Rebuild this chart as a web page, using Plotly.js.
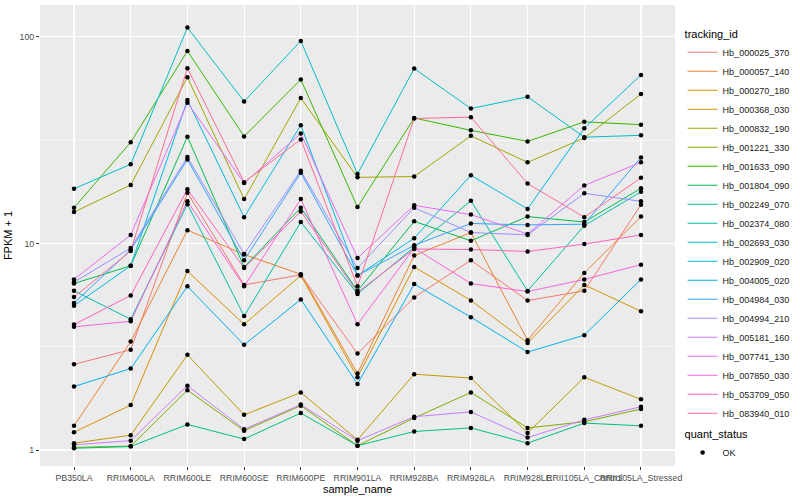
<!DOCTYPE html>
<html>
<head>
<meta charset="utf-8">
<script src="https://cdn.plot.ly/plotly-3.0.1.min.js"></script>
<style>html,body{margin:0;padding:0;background:#fff;}#chart{width:800px;height:500px;}</style>
</head>
<body>
<div id="chart"></div>
<script>
// Categories (x axis)
const sampleNames = ["PB350LA","RRIM600LA","RRIM600LE","RRIM600SE","RRIM600PE","RRIM901LA","RRIM928BA","RRIM928LA","RRIM928LE","RRII105LA_Control","RRII105LA_Stressed"];

// Series: FPKM + 1 per sample
const Hb_000025_370 = [2.6, 3.06, 17.6, 6.3, 7.05, 2.93, 5.48, 8.3, 5.29, 5.9, 15.4];
const Hb_000057_140 = [1.31, 3.35, 11.6, 8.85, 7.1, 2.35, 8.75, 11.3, 3.4, 7.2, 13.5];
const Hb_000270_180 = [1.22, 1.65, 7.35, 4.06, 7.0, 2.25, 7.7, 5.3, 3.3, 6.3, 4.7];
const Hb_000368_030 = [1.08, 1.18, 2.89, 1.48, 1.9, 1.12, 2.33, 2.23, 1.21, 2.25, 1.76];
const Hb_000832_190 = [14.2, 19.2, 63.8, 16.4, 50.6, 20.9, 21.1, 33.2, 24.7, 32.4, 52.9];
const Hb_001221_330 = [1.03, 1.045, 1.95, 1.24, 1.64, 1.05, 1.43, 1.9, 1.28, 1.37, 1.58];
const Hb_001633_090 = [14.9, 30.9, 85.5, 33, 62.2, 15, 40.5, 35.3, 31.2, 38.8, 37.6];
const Hb_001804_090 = [6.4, 7.8, 32.9, 7.7, 14.9, 5.9, 12.8, 10.3, 13.5, 12.7, 18.5];
const Hb_002249_070 = [1.02, 1.04, 1.33, 1.13, 1.51, 1.05, 1.23, 1.28, 1.08, 1.35, 1.31];
const Hb_002374_080 = [5.9, 4.3, 15.5, 4.45, 12.7, 5.7, 9.6, 16.1, 5.89, 12.2, 17.8];
const Hb_002693_030 = [18.4, 24.2, 111, 48.7, 95.7, 21.7, 70.3, 45, 51.3, 32.7, 33.4];
const Hb_002909_020 = [5.0, 7.8, 49.5, 13.4, 37.4, 7.0, 10.6, 21.4, 14.7, 36.1, 65.5];
const Hb_004005_020 = [2.03, 2.48, 6.2, 3.23, 5.36, 2.09, 6.36, 4.4, 2.98, 3.6, 6.7];
const Hb_004984_030 = [5.15, 9.3, 25.5, 8.3, 22.0, 7.0, 9.8, 12.5, 12.3, 12.4, 26.1];
const Hb_004994_210 = [6.5, 9.5, 26.2, 8.9, 22.5, 7.6, 14.9, 11.3, 11.0, 17.5, 16.0];
const Hb_005181_160 = [1.06, 1.11, 2.05, 1.26, 1.66, 1.11, 1.45, 1.53, 1.15, 1.4, 1.62];
const Hb_007741_130 = [6.7, 11.0, 48, 19.6, 34.1, 8.5, 15.3, 13.8, 11.1, 19.1, 24.7];
const Hb_007850_030 = [3.95, 4.2, 16.0, 6.2, 16.4, 4.06, 9.5, 6.4, 5.85, 6.7, 7.9];
const Hb_053709_050 = [4.05, 5.6, 18.3, 7.6, 14.3, 5.8, 9.4, 9.35, 9.15, 9.93, 11.0];
const Hb_083940_010 = [5.5, 9.2, 70.6, 19.8, 31.9, 6.2, 40.3, 40.9, 19.5, 13.4, 20.8];

const trackingIds = ["Hb_000025_370","Hb_000057_140","Hb_000270_180","Hb_000368_030","Hb_000832_190","Hb_001221_330","Hb_001633_090","Hb_001804_090","Hb_002249_070","Hb_002374_080","Hb_002693_030","Hb_002909_020","Hb_004005_020","Hb_004984_030","Hb_004994_210","Hb_005181_160","Hb_007741_130","Hb_007850_030","Hb_053709_050","Hb_083940_010"];
const seriesValues = [Hb_000025_370,Hb_000057_140,Hb_000270_180,Hb_000368_030,Hb_000832_190,Hb_001221_330,Hb_001633_090,Hb_001804_090,Hb_002249_070,Hb_002374_080,Hb_002693_030,Hb_002909_020,Hb_004005_020,Hb_004984_030,Hb_004994_210,Hb_005181_160,Hb_007741_130,Hb_007850_030,Hb_053709_050,Hb_083940_010];
const lineColors = ["#F8766D","#EA8331","#D89000","#C09B00","#A3A500","#7CAE00","#39B600","#00BB4E","#00BF7D","#00C1A3","#00BFC4","#00BAE0","#00B0F6","#35A2FF","#9590FF","#C77CFF","#E76BF3","#FA62DB","#FF62BC","#FF6C91"];
const statusLabel = "OK";

const FONT = "Liberation Sans, Arial, Helvetica, sans-serif";
const traces = [];
trackingIds.forEach((id, i) => {
  traces.push({
    type: "scatter", mode: "lines", name: id,
    x: sampleNames, y: seriesValues[i],
    line: {color: lineColors[i], width: 1},
    legend: "legend", hoverinfo: "x+y+name"
  });
});
// points (quant_status)
const px = [], py = [];
seriesValues.forEach(arr => arr.forEach((v, j) => { px.push(sampleNames[j]); py.push(v); }));
traces.push({
  type: "scatter", mode: "markers", name: statusLabel,
  x: px, y: py,
  marker: {color: "#000000", size: 4.5, symbol: "circle"},
  legend: "legend2"
});

const layout = {
  width: 800, height: 500,
  margin: {l: 40, r: 113, t: 5, b: 34},
  paper_bgcolor: "#FFFFFF",
  plot_bgcolor: "#EBEBEB",
  font: {family: FONT, size: 9, color: "#4D4D4D"},
  showlegend: true,
  xaxis: {
    type: "category",
    range: [-0.6, 10.6],
    showgrid: true, gridcolor: "#FFFFFF", gridwidth: 1.1,
    zeroline: false, showline: false,
    ticks: "outside", ticklen: 3, tickwidth: 1, tickcolor: "#333333",
    tickangle: 0,
    tickfont: {family: FONT, size: 8.8, color: "#4D4D4D"},
    title: {text: "sample_name", font: {family: FONT, size: 11, color: "#000000"}, standoff: 3},
    automargin: false
  },
  yaxis: {
    type: "log",
    range: [-0.0773, 2.1546],
    tickmode: "array", tickvals: [1, 10, 100], ticktext: ["1", "10", "100"],
    showgrid: true, gridcolor: "#FFFFFF", gridwidth: 1.1,
    minor: {tickmode: "array", tickvals: [3.1623, 31.623], showgrid: true, gridcolor: "#FFFFFF", gridwidth: 0.5, ticks: ""},
    zeroline: false, showline: false,
    ticks: "outside", ticklen: 3, tickwidth: 1, tickcolor: "#333333",
    tickfont: {family: FONT, size: 8.8, color: "#4D4D4D"},
    title: {text: "FPKM + 1", font: {family: FONT, size: 11, color: "#000000"}, standoff: 4},
    automargin: false
  },
  legend: {
    x: 1.012, xanchor: "left", y: 0.96, yanchor: "top",
    bgcolor: "rgba(255,255,255,0)",
    font: {family: FONT, size: 9, color: "#1A1A1A"},
    title: {text: "tracking_id", font: {family: FONT, size: 11, color: "#000000"}},
    tracegroupgap: 0, itemwidth: 30
  },
  legend2: {
    x: 1.012, xanchor: "left", y: 0.092, yanchor: "top",
    bgcolor: "rgba(255,255,255,0)",
    font: {family: FONT, size: 9, color: "#1A1A1A"},
    title: {text: "quant_status", font: {family: FONT, size: 11, color: "#000000"}},
    itemwidth: 30
  }
};

Plotly.newPlot("chart", traces, layout, {displayModeBar: false, staticPlot: true});
</script>
</body>
</html>
